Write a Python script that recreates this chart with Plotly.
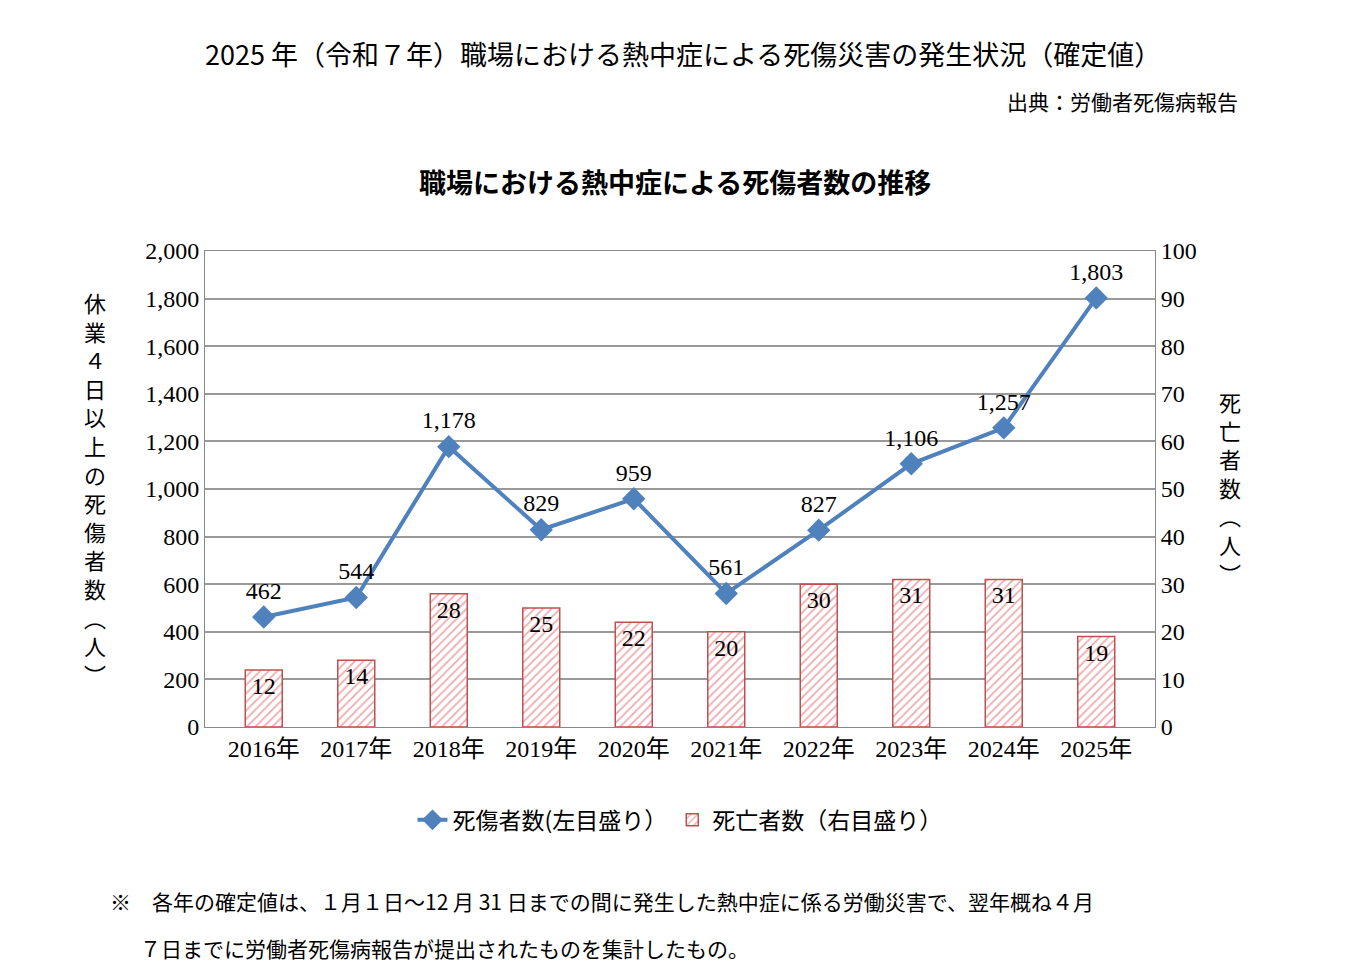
import plotly.graph_objects as go

years = ["2016年", "2017年", "2018年", "2019年", "2020年", "2021年", "2022年", "2023年", "2024年", "2025年"]
casualties = [462, 544, 1178, 829, 959, 561, 827, 1106, 1257, 1803]
deaths = [12, 14, 28, 25, 22, 20, 30, 31, 31, 19]

serif = "Liberation Serif, Noto Sans CJK JP"
jp = "Noto Sans CJK JP"

# plot area in reference pixels
X0, X1, Y0, Y1 = 205, 1155, 251, 727

fig = go.Figure()
fig.add_trace(go.Bar(
    x=years, y=deaths, yaxis="y2", name="死亡者数（右目盛り）",
    width=0.4,
    marker=dict(color="white", line=dict(color="#c0504d", width=1.5),
                pattern=dict(shape="/", fgcolor="#d9575a", bgcolor="white", size=6, solidity=0.3)),
    text=[str(d) for d in deaths], textposition="inside", insidetextanchor="end",
    textfont=dict(family=serif, size=24, color="black"),
    cliponaxis=False,
))
fig.add_trace(go.Scatter(
    x=years, y=casualties, name="死傷者数(左目盛り）", mode="lines+markers+text",
    line=dict(color="#4f81bd", width=4),
    marker=dict(symbol="diamond", size=18, color="#4f81bd"),
    text=[f"{v:,}" for v in casualties], textposition="top center",
    textfont=dict(family=serif, size=24, color="black"),
    cliponaxis=False,
))

fig.update_layout(
    width=1366, height=980, paper_bgcolor="white", plot_bgcolor="white",
    margin=dict(l=197, r=219, t=243, b=261),
    font=dict(family=serif, size=24, color="black"),
    xaxis=dict(showline=True, linecolor="#888", ticks="", tickfont=dict(size=24, family=serif), mirror=True),
    yaxis=dict(range=[0, 2000], dtick=200, tickformat=",", showgrid=True, gridcolor="#999",
               gridwidth=1.5, showline=True, linecolor="#888", tickfont=dict(size=24), ticklen=0),
    yaxis2=dict(range=[0, 100], dtick=10, overlaying="y", side="right", showgrid=False,
                showline=True, linecolor="#888", tickfont=dict(size=24)),
    bargap=0.6,
    legend=dict(orientation="h", x=0.5, xanchor="center", y=-0.15, yanchor="top",
                traceorder="reversed", font=dict(family=jp, size=23)),
)

annots = [
    (683, 54, "2025 年（令和７年）職場における熱中症による死傷災害の発生状況（確定値）", 27, "center"),
    (1240, 101, "出典：労働者死傷病報告", 21, "right"),
    (675, 181, "<b>職場における熱中症による死傷者数の推移</b>", 27, "center"),
    (108, 901, "※　各年の確定値は、１月１日～12 月 31 日までの間に発生した熱中症に係る労働災害で、翌年概ね４月", 21, "left"),
    (138, 948, "７日までに労働者死傷病報告が提出されたものを集計したもの。", 21, "left"),
]
for x, y, text, size, anchor in annots:
    fig.add_annotation(x=(x - X0) / (X1 - X0), y=(Y1 - y) / (Y1 - Y0), xref="paper", yref="paper",
                       xanchor=anchor, yanchor="middle", showarrow=False,
                       text=text, font=dict(family=jp, size=size, color="black"))

left_title = "<br>".join(list("休業４日以上の死傷者数︵人︶"))
right_title = "<br>".join(list("死亡者数︵人︶"))
fig.add_annotation(x=(82 - X0) / (X1 - X0), y=(Y1 - 488) / (Y1 - Y0), xref="paper", yref="paper",
                   showarrow=False, text=left_title, align="center",
                   font=dict(family=jp, size=22, color="black"))
fig.add_annotation(x=(1243 - X0) / (X1 - X0), y=(Y1 - 487) / (Y1 - Y0), xref="paper", yref="paper",
                   showarrow=False, text=right_title, align="center",
                   font=dict(family=jp, size=22, color="black"))

fig.write_html("out.html")
